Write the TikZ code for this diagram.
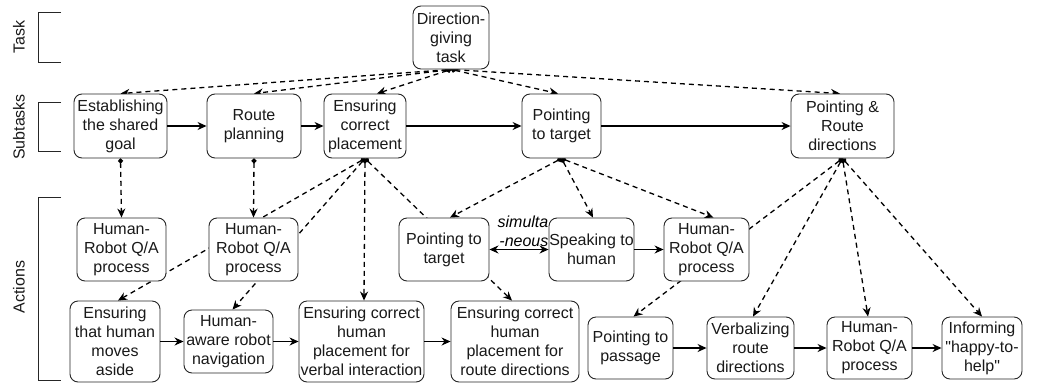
\documentclass[tikz,border=0pt]{standalone}
\usepackage{fontspec}
\setmainfont{Liberation Sans}
\newfontfamily\plainsans{Liberation Sans}
\usetikzlibrary{arrows.meta,backgrounds}
\begin{document}
\begin{tikzpicture}[x=1pt,y=-1pt,
 box/.style={draw=black!85, line width=0.9pt, rounded corners=8pt, fill=white, align=center, inner sep=0pt, font=\plainsans\fontsize{16}{19}\selectfont, text=black!90},
 dep/.style={line width=1.3pt, dash pattern=on 5pt off 4pt, {Circle[length=5pt]}-{Stealth[length=9pt,width=8pt]}},
 seq/.style={line width=1.3pt, -{Stealth[length=9pt,width=8pt]}},
 brk/.style={draw=black!85, line width=0.9pt},
 lvl/.style={rotate=90, font=\fontsize{16}{19}\selectfont, text=black!90}
]
\useasboundingbox (0,0) rectangle (1048,383);

% level labels and brackets
\node[lvl] (ltask) at (19,37) {Task};
\node[lvl] (lsub) at (19,127) {Subtasks};
\node[lvl] (lact) at (19,287) {Actions};
\draw[brk] (61,12) -- (38,12) -- (38,62) -- (61,62);
\draw[brk] (61,102) -- (38,102) -- (38,151) -- (61,151);
\draw[brk] (61,197) -- (38,197) -- (38,380) -- (61,380);

% task
\node[box, minimum width=76pt, minimum height=63pt] (dg) at (451,37.5) {Direction-\\giving\\task};

% subtasks
\node[box, minimum width=93pt, minimum height=64pt] (est) at (120.5,126) {Establishing\\the shared\\goal};
\node[box, minimum width=94pt, minimum height=64pt] (rp) at (254,126) {Route\\planning};
\node[box, minimum width=82pt, minimum height=64pt] (ecp) at (365,126) {Ensuring\\correct\\placement};
\node[box, minimum width=79pt, minimum height=64pt] (pts) at (561.5,126) {Pointing\\to target};
\node[box, minimum width=103pt, minimum height=64pt] (prd) at (842.5,126) {Pointing \&\\Route\\directions};

% actions row 1
\node[box, minimum width=89pt, minimum height=63pt] (qa1) at (121.5,249.5) {Human-\\Robot Q/A\\process};
\node[box, minimum width=89pt, minimum height=63pt] (qa2) at (253.5,249.5) {Human-\\Robot Q/A\\process};
\node[box, minimum width=90pt, minimum height=63pt] (pta) at (444,249.5) {Pointing to\\target};
\node[box, minimum width=85pt, minimum height=63pt] (spk) at (591.5,249.5) {Speaking to\\human};
\node[box, minimum width=85pt, minimum height=63pt] (qa3) at (706.5,249.5) {Human-\\Robot Q/A\\process};

% actions row 2
\node[box, minimum width=90pt, minimum height=81pt] (eth) at (115,341.5) {Ensuring\\that human\\moves\\aside};
\node[box, minimum width=89pt, minimum height=63pt] (haw) at (228.5,341.5) {Human-\\aware robot\\navigation};
\node[box, minimum width=125pt, minimum height=81pt] (ev) at (361.5,341.5) {Ensuring correct\\human\\placement for\\verbal interaction};
\node[box, minimum width=128pt, minimum height=81pt] (er) at (515,341.5) {Ensuring correct\\human\\placement for\\route directions};
\node[box, minimum width=85pt, minimum height=62pt] (pp) at (630.5,348) {Pointing to\\passage};
\node[box, minimum width=87pt, minimum height=62pt] (vb) at (750.5,348) {Verbalizing\\route\\directions};
\node[box, minimum width=85pt, minimum height=62pt] (qa4) at (869.5,348) {Human-\\Robot Q/A\\process};
\node[box, minimum width=80pt, minimum height=62pt] (inf) at (982,348) {Informing\\"happy-to-\\help"};

\begin{pgfonlayer}{background}
% task -> subtasks
\draw[dep] (dg.south) -- (est.north);
\draw[dep] (dg.south) -- (rp.north);
\draw[dep] (dg.south) -- ([xshift=12pt]ecp.north);
\draw[dep] (dg.south) -- ([xshift=-3.5pt]pts.north);
\draw[dep] (dg.south) -- ([xshift=-2.5pt]prd.north);
% subtasks -> actions
\draw[dep] (est.south) -- (qa1.north);
\draw[dep] (rp.south) -- (qa2.north);
\draw[dep] (ecp.south) -- ([xshift=3pt]eth.north);
\draw[dep] (ecp.south) -- ([xshift=4pt]haw.north);
\draw[dep] (ecp.south) -- ([xshift=2.5pt]ev.north);
\draw[dep] (ecp.south) -- ([xshift=-3pt]er.north);
\draw[dep] (pts.south) -- ([xshift=6pt]pta.north);
\draw[dep] (pts.south) -- ([xshift=1.5pt]spk.north);
\draw[dep] (pts.south) -- ([xshift=7pt]qa3.north);
\draw[dep] (prd.south) -- ([xshift=3pt]pp.north);
\draw[dep] (prd.south) -- ([xshift=2.5pt]vb.north);
\draw[dep] (prd.south) -- ([xshift=-1.5pt]qa4.north);
\draw[dep] (prd.south) -- (inf.north);
\end{pgfonlayer}

% sequences
\draw[seq] (est) -- (rp);
\draw[seq] (rp) -- (ecp);
\draw[seq] (ecp) -- (pts);
\draw[seq] (pts) -- (prd);
\draw[seq, {Stealth[length=9pt,width=8pt]}-{Stealth[length=9pt,width=8pt]}] (pta) -- node[above=2pt, xshift=4pt, align=right, inner sep=0pt, font=\fontsize{16}{19}\selectfont\itshape] (sim) {simulta\\-neous} (spk);
\draw[seq] (spk) -- (qa3);
\draw[seq] (eth) -- (haw);
\draw[seq] (haw) -- (ev);
\draw[seq] (ev) -- (er);
\draw[seq] (pp) -- (vb);
\draw[seq] (vb) -- (qa4);
\draw[seq] (qa4) -- (inf);
\end{tikzpicture}
\end{document}
